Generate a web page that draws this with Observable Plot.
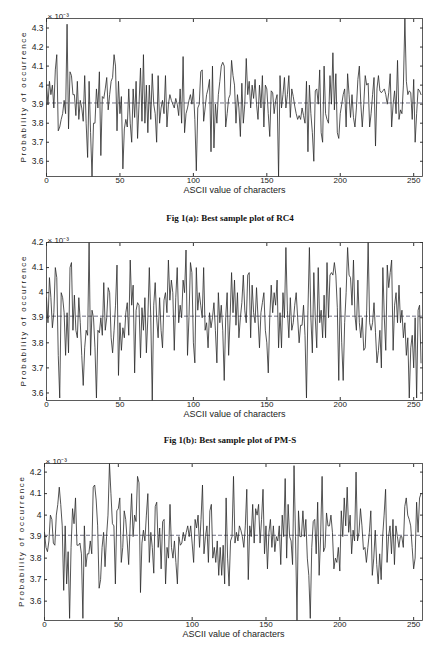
<!DOCTYPE html>
<html><head><meta charset="utf-8">
<script src="https://cdn.jsdelivr.net/npm/d3@7"></script>
<script src="https://cdn.jsdelivr.net/npm/@observablehq/plot@0.6"></script>
<style>
html,body{margin:0;padding:0;background:#fff;}
#page{position:relative;width:429px;height:646px;overflow:hidden;background:#fff;font-family:"Liberation Sans",Arial,sans-serif;}
.panel{position:absolute;left:0;}
.caption{position:absolute;left:230px;transform:translate(-50%,-50%);font:bold 9px "Liberation Serif","Times New Roman",serif;white-space:nowrap;color:#111;}
</style></head><body><div id="page"></div>
<script>
// ---- data (probability of occurrence, ×10^-3) ----
const ASCII = d3.range(256);            // ASCII value of characters 0..255
const X_TICKS = [0, 50, 100, 150, 200, 250];
const X_DOMAIN = [0, 256];
const Y_TICKS_A = [3.6, 3.7, 3.8, 3.9, 4.0, 4.1, 4.2, 4.3];
const Y_TICKS_B = [3.6, 3.7, 3.8, 3.9, 4.0, 4.1, 4.2];
const Y_TICKS_C = [3.6, 3.7, 3.8, 3.9, 4.0, 4.1, 4.2];
const UNIFORM = 1000 / 256;             // ideal probability 1/256
const Y_LABEL = "Probability of occurrence";
const X_LABEL = "ASCII value of characters";
const EXPONENT = "× 10⁻³";
const CAPTION_A = "Fig 1(a): Best sample plot of RC4";
const CAPTION_B = "Fig 1(b): Best sample plot of PM-S";

const RC4_VALUES = [
4.0,3.9,4.02,3.95,4.0,3.88,4.08,4.16,3.76,3.78,
3.82,3.85,3.92,3.85,4.32,3.77,4.07,4.05,3.95,3.95,
3.84,4.02,3.82,3.92,3.88,3.81,4.05,3.8,3.62,4.02,
3.75,3.52,3.8,3.8,3.98,3.88,4.07,3.63,3.94,3.93,
3.98,4.04,3.87,3.95,4.02,4.04,4.16,4.1,3.76,4.02,
3.85,3.94,3.56,3.77,3.82,3.78,3.98,3.8,3.7,3.98,
3.83,4.02,3.72,3.9,4.09,3.81,4.16,3.8,4.0,3.75,
4.0,3.82,4.06,3.9,3.85,3.7,4.05,3.8,3.88,3.92,
3.85,4.05,3.78,3.9,3.95,3.92,3.9,3.88,3.93,3.9,
3.84,3.98,3.8,4.15,3.75,3.85,3.88,3.92,3.95,3.9,
3.98,3.82,3.55,3.88,3.9,4.07,4.08,3.81,3.88,3.95,
3.98,4.03,3.65,4.1,3.67,3.9,3.8,3.95,4.02,4.1,
4.12,4.1,3.78,3.85,3.93,3.95,4.13,4.05,4.0,3.8,
3.95,3.88,3.73,4.01,3.8,3.9,4.14,3.95,4.02,3.88,
4.0,3.93,4.03,3.9,3.82,4.0,3.88,4.05,3.78,4.0,
3.98,3.85,3.73,3.97,3.96,3.85,3.92,3.95,3.52,4.05,
3.88,3.95,4.04,3.88,3.95,4.05,3.83,3.98,3.94,3.89,
3.85,3.82,3.84,3.82,3.88,3.84,3.8,4.02,3.65,4.0,
3.85,3.75,3.6,3.97,3.98,3.9,4.08,3.75,3.7,4.1,
3.85,3.82,3.8,4.05,3.9,4.17,3.87,4.06,3.75,3.72,
3.85,3.9,3.95,3.98,3.78,4.06,3.95,3.83,3.95,3.83,
3.78,3.88,4.03,4.1,3.9,3.78,3.9,4.05,4.0,4.01,
3.78,3.85,3.95,4.04,3.68,3.98,4.05,3.97,3.96,3.97,
3.98,3.95,3.9,3.96,4.06,3.78,3.9,3.97,3.85,4.13,
3.82,3.87,3.85,4.0,4.35,4.02,3.95,3.97,3.96,3.82,
4.03,3.7,3.85,3.98,3.97,3.95];

const PMS_VALUES = [
3.98,3.88,4.06,3.98,3.86,3.92,4.1,4.06,3.75,3.58,
4.0,3.98,3.92,3.75,3.92,3.76,4.1,4.12,3.85,3.99,
3.85,3.82,3.98,3.88,3.75,3.63,3.78,3.85,3.83,4.2,
3.75,3.93,3.9,3.78,3.58,3.85,3.84,3.9,3.83,4.04,
3.85,3.9,4.02,4.0,3.82,3.76,3.85,3.95,4.11,3.67,
3.88,3.77,3.86,3.82,3.92,3.96,3.83,4.13,3.95,4.03,
3.68,3.93,3.96,3.95,3.74,3.94,3.85,3.98,3.76,3.9,
4.1,3.9,3.57,3.95,4.04,3.9,3.82,3.98,3.85,3.78,
3.97,4.0,3.92,4.13,3.97,4.05,4.0,3.77,3.98,4.1,
3.88,3.95,3.9,4.05,4.0,4.17,3.75,3.9,4.12,4.08,
3.8,3.72,4.1,3.93,4.0,3.95,3.9,4.1,3.85,3.88,
3.78,3.92,3.86,3.9,3.96,3.85,3.72,4.0,3.88,3.95,
3.85,3.65,3.9,4.0,3.75,3.9,4.08,3.92,4.05,3.87,
4.0,3.82,3.9,3.96,4.07,3.93,3.88,4.07,4.08,3.82,
4.03,3.92,3.88,4.02,3.9,3.78,3.92,3.96,4.0,3.85,
3.8,3.68,3.9,4.03,3.92,4.0,3.95,4.05,3.78,3.92,
3.78,4.0,3.9,4.18,3.93,3.82,3.98,3.85,3.88,3.95,
4.0,3.9,3.8,3.87,3.87,3.95,3.83,3.58,3.93,4.18,
3.9,3.76,4.08,3.9,3.78,4.1,3.88,3.93,3.82,3.99,
3.82,4.12,3.9,4.07,4.08,4.07,4.12,4.07,3.94,3.65,
4.02,3.8,3.65,3.88,4.0,4.18,4.07,4.06,3.95,4.13,
3.91,3.85,4.05,3.88,3.82,3.9,3.77,3.78,3.93,4.2,
3.88,3.85,3.88,3.96,3.84,3.72,3.77,3.85,3.7,4.1,
3.9,3.77,4.11,4.02,4.08,4.13,3.77,3.95,4.0,3.88,
4.03,3.88,3.93,3.82,3.88,3.75,3.82,3.58,3.78,3.83,
3.7,3.9,3.58,3.93,3.95,3.72];

const PANEL_C_VALUES = [
3.92,3.85,3.83,3.88,4.0,3.98,3.87,3.86,4.0,4.05,
4.13,4.05,3.95,3.65,3.95,3.68,3.83,3.52,3.85,4.03,
3.96,4.08,3.86,3.86,3.87,3.82,3.52,3.95,3.76,3.82,
3.82,3.88,3.82,4.13,4.14,4.07,3.95,3.66,3.7,3.85,
3.92,3.76,3.9,4.0,4.24,4.1,3.96,3.95,3.68,4.02,
4.03,4.08,3.78,3.85,4.02,3.98,3.88,3.77,3.95,4.1,
3.9,4.0,3.97,4.18,4.15,3.64,3.87,3.93,3.88,4.0,
4.1,3.78,3.92,3.85,3.73,4.04,4.06,3.85,3.94,3.75,
3.97,3.98,3.68,3.85,3.8,4.05,3.85,3.8,3.88,3.78,
3.68,3.9,3.86,3.87,3.92,3.88,3.92,3.95,3.9,3.95,
3.87,3.78,3.98,3.94,4.0,3.85,3.98,4.14,3.82,3.9,
3.95,3.78,4.02,4.05,3.8,3.85,3.78,3.88,3.72,3.85,
3.72,3.86,3.68,4.08,3.8,3.67,3.88,3.9,4.18,3.87,
3.92,3.88,3.95,3.93,3.9,3.85,3.95,4.12,3.7,3.95,
3.9,4.05,3.87,4.03,4.0,4.05,3.87,3.98,4.12,3.82,
3.95,3.75,3.92,3.98,3.85,3.95,3.83,3.9,3.88,3.95,
3.77,4.0,3.9,4.17,3.8,4.05,3.9,3.88,3.77,4.23,
3.9,3.51,4.02,3.9,3.9,4.02,3.9,3.98,3.8,3.72,
3.52,3.85,3.97,3.98,3.82,4.06,3.72,3.9,4.18,3.83,
3.85,4.01,3.95,3.95,4.0,3.92,3.75,3.8,3.78,3.85,
3.74,4.02,3.9,4.08,3.95,4.13,3.92,4.0,3.82,3.93,
3.88,4.2,3.88,3.92,4.03,3.95,3.84,3.85,3.78,3.85,
3.92,4.02,3.72,3.8,3.93,3.77,3.68,3.82,3.7,3.9,
4.0,4.12,3.78,3.9,3.95,3.82,3.98,3.77,3.95,3.9,
3.85,3.9,3.9,3.85,4.04,4.08,4.0,3.98,3.95,3.85,
3.75,3.8,4.06,3.92,4.08,4.1];

const FONT = '"Liberation Sans", Arial, Helvetica, sans-serif';

function panel(values, yTicks, {top, marginTop, plotHeight, marginBottom, marginLeft}) {
  const rows = ASCII.map(i => ({ascii: i, p: values[i]}));
  const chart = Plot.plot({
    width: 429,
    height: marginTop + plotHeight + marginBottom,
    marginTop, marginBottom, marginLeft, marginRight: 7,
    style: {fontFamily: FONT, fontSize: "8px", color: "#222", background: "transparent", overflow: "visible"},
    x: {domain: X_DOMAIN},
    y: {domain: d3.extent(values)},
    marks: [
      Plot.ruleY([UNIFORM], {stroke: "#4b4b66", strokeWidth: 0.8, strokeDasharray: "4,2"}),
      Plot.lineY(rows, {x: "ascii", y: "p", stroke: "#2a2a2a", strokeWidth: 0.8}),
      Plot.frame({stroke: "#333", strokeWidth: 0.8}),
      Plot.axisX({ticks: X_TICKS, tickSize: -3, tickPadding: 4, label: null, stroke: "#333", fontSize: 8}),
      Plot.axisX({anchor: "top", ticks: X_TICKS, tickSize: -3, tickFormat: () => "", label: null, stroke: "#333"}),
      Plot.axisY({ticks: yTicks, tickSize: -3, tickPadding: 6, tickFormat: d => String(+d.toFixed(1)), label: null, stroke: "#333", fontSize: 8.5}),
      Plot.axisY({anchor: "right", ticks: yTicks, tickSize: -3, tickFormat: () => "", label: null, stroke: "#333"}),
      Plot.text([Y_LABEL], {text: d => d, frameAnchor: "left", textAnchor: "start", rotate: -90, dx: -23, dy: 65, fontSize: 8, fill: "#222"}),
      Plot.text([X_LABEL], {text: d => d, frameAnchor: "bottom", dy: 16.5, fontSize: 9, fill: "#222"}),
      Plot.text([EXPONENT], {text: d => d, frameAnchor: "top-left", textAnchor: "start", dx: 1, dy: -5, fontSize: 8, fill: "#222"})
    ]
  });
  // spaced-out lettering of the y-axis title, as in the reference
  d3.select(chart).selectAll("text")
    .filter(function() { return this.textContent === Y_LABEL; })
    .attr("letter-spacing", "1.75px");
  const div = document.createElement("div");
  div.className = "panel";
  div.style.top = top + "px";
  div.appendChild(chart);
  document.getElementById("page").appendChild(div);
}

function caption(text, y) {
  const c = document.createElement("div");
  c.className = "caption";
  c.style.top = y + "px";
  c.textContent = text;
  document.getElementById("page").appendChild(c);
}

panel(RC4_VALUES, Y_TICKS_A, {top: 0, marginTop: 18, plotHeight: 158, marginBottom: 28, marginLeft: 46});
caption(CAPTION_A, 218);
panel(PMS_VALUES, Y_TICKS_B, {top: 224, marginTop: 18, plotHeight: 158, marginBottom: 28, marginLeft: 46});
caption(CAPTION_B, 439.5);
panel(PANEL_C_VALUES, Y_TICKS_C, {top: 445, marginTop: 18, plotHeight: 157, marginBottom: 26, marginLeft: 44});
</script></body></html>
